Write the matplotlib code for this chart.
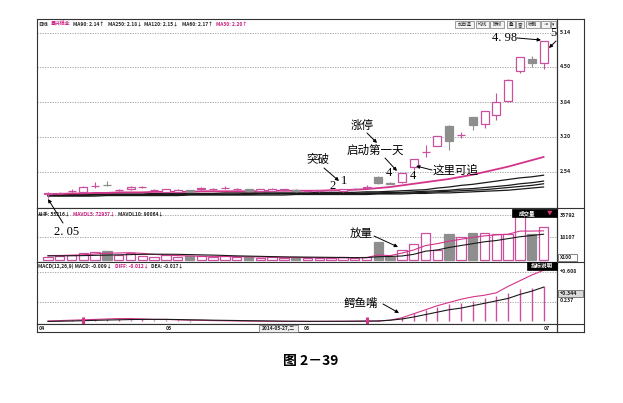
import numpy as np
import matplotlib
matplotlib.use('Agg')
import matplotlib.pyplot as plt
from matplotlib.patches import Rectangle
from matplotlib.transforms import blended_transform_factory

plt.rcParams['font.family'] = ['Noto Sans CJK SC', 'DejaVu Sans']

# daily candles (43 sessions, Apr -> early Jul)
opens = [2.13, 2.15, 2.18, 2.17, 2.27, 2.30, 2.20, 2.22, 2.26, 2.20, 2.17, 2.17, 2.20, 2.23, 2.22,
         2.24, 2.22, 2.22, 2.18, 2.19, 2.21, 2.21, 2.19, 2.18, 2.20, 2.18, 2.22, 2.25, 2.45, 2.33,
         2.35, 2.63, 2.91, 3.03, 3.40, 3.23, 3.56, 3.44, 3.60, 3.87, 4.43, 4.64, 4.57]
highs = [2.16, 2.17, 2.22, 2.27, 2.36, 2.37, 2.23, 2.28, 2.28, 2.22, 2.23, 2.22, 2.21, 2.26, 2.24,
         2.27, 2.25, 2.23, 2.23, 2.24, 2.23, 2.22, 2.21, 2.21, 2.22, 2.23, 2.24, 2.29, 2.46, 2.35,
         2.53, 2.78, 3.04, 3.22, 3.41, 3.29, 3.57, 3.68, 4.02, 4.27, 4.69, 4.70, 4.98]
lows = [2.05, 2.12, 2.16, 2.16, 2.25, 2.27, 2.18, 2.21, 2.24, 2.19, 2.16, 2.16, 2.16, 2.21, 2.20,
        2.22, 2.20, 2.17, 2.17, 2.18, 2.19, 2.17, 2.18, 2.17, 2.19, 2.17, 2.21, 2.24, 2.32, 2.31,
        2.34, 2.58, 2.82, 3.02, 2.95, 3.17, 3.32, 3.36, 3.51, 3.84, 4.39, 4.49, 4.46]
closes = [2.14, 2.15, 2.19, 2.26, 2.28, 2.29, 2.20, 2.26, 2.26, 2.21, 2.22, 2.21, 2.17, 2.24, 2.22,
          2.25, 2.23, 2.18, 2.22, 2.22, 2.21, 2.18, 2.19, 2.20, 2.20, 2.22, 2.22, 2.26, 2.33, 2.32,
          2.52, 2.78, 2.92, 3.21, 3.11, 3.23, 3.42, 3.67, 3.85, 4.26, 4.68, 4.58, 4.98]

ma30 = [2.13, 2.13, 2.14, 2.14, 2.15, 2.15, 2.16, 2.16, 2.16, 2.17, 2.17, 2.17, 2.17, 2.18, 2.18,
        2.18, 2.18, 2.18, 2.18, 2.19, 2.19, 2.19, 2.19, 2.19, 2.20, 2.20, 2.21, 2.22, 2.24, 2.26,
        2.29, 2.32, 2.35, 2.38, 2.41, 2.45, 2.49, 2.54, 2.59, 2.64, 2.70, 2.76, 2.82]
ma60 = [2.12, 2.12, 2.12, 2.12, 2.13, 2.13, 2.13, 2.13, 2.13, 2.14, 2.14, 2.14, 2.14, 2.14, 2.14,
        2.15, 2.15, 2.15, 2.15, 2.15, 2.15, 2.15, 2.15, 2.16, 2.16, 2.16, 2.16, 2.17, 2.17, 2.18,
        2.19, 2.20, 2.21, 2.24, 2.26, 2.29, 2.31, 2.34, 2.37, 2.40, 2.43, 2.45, 2.48]
ma90 = [2.11, 2.11, 2.11, 2.11, 2.12, 2.12, 2.12, 2.12, 2.12, 2.12, 2.13, 2.13, 2.13, 2.13, 2.13,
        2.13, 2.13, 2.14, 2.14, 2.14, 2.14, 2.14, 2.14, 2.14, 2.14, 2.14, 2.14, 2.15, 2.15, 2.16,
        2.16, 2.17, 2.18, 2.19, 2.20, 2.22, 2.23, 2.25, 2.27, 2.29, 2.32, 2.34, 2.37]
ma120 = [2.10, 2.10, 2.10, 2.10, 2.11, 2.11, 2.11, 2.11, 2.11, 2.11, 2.12, 2.12, 2.12, 2.12, 2.12,
         2.12, 2.12, 2.12, 2.13, 2.13, 2.13, 2.13, 2.13, 2.13, 2.13, 2.13, 2.13, 2.14, 2.14, 2.14,
         2.15, 2.15, 2.16, 2.17, 2.18, 2.19, 2.20, 2.21, 2.23, 2.25, 2.27, 2.29, 2.32]
ma250 = [2.09, 2.09, 2.09, 2.09, 2.09, 2.10, 2.10, 2.10, 2.10, 2.10, 2.10, 2.10, 2.11, 2.11, 2.11,
         2.11, 2.11, 2.11, 2.11, 2.11, 2.11, 2.12, 2.12, 2.12, 2.12, 2.12, 2.12, 2.12, 2.13, 2.13,
         2.13, 2.14, 2.14, 2.15, 2.15, 2.16, 2.17, 2.18, 2.19, 2.20, 2.22, 2.24, 2.26]

volume = [2400, 3200, 4000, 5600, 6400, 7200, 4000, 5600, 3200, 2400, 4000, 2400, 3200, 2800, 2400,
          3000, 2000, 2400, 1800, 2200, 1600, 2000, 1500, 1800, 1400, 2600, 1600, 2200, 14000, 2600,
          8200, 12800, 21700, 7700, 20500, 17900, 21700, 21700, 20500, 20500, 35792, 20500, 26100]
mavol5 = [3500, 3600, 3800, 4200, 4800, 5400, 5600, 5800, 5300, 4500, 3900, 3500, 3200, 3000, 2900,
          2800, 2700, 2500, 2400, 2300, 2100, 2000, 1900, 1800, 1700, 1800, 1800, 1900, 4000, 3500,
          5500, 8000, 11500, 13000, 15000, 16500, 18000, 19200, 20000, 20500, 23000, 23000, 23200]
mavol10 = [3300, 3300, 3400, 3500, 3700, 3900, 4100, 4300, 4500, 4600, 4600, 4500, 4300, 4100, 3900,
           3600, 3300, 3100, 2900, 2700, 2500, 2400, 2300, 2200, 2100, 2000, 1900, 1900, 2600, 2800,
           3200, 4500, 7000, 8000, 10000, 11500, 13000, 14500, 15500, 17000, 18500, 19500, 20500]

diff = [0.000, 0.005, 0.010, 0.015, 0.020, 0.025, 0.030, 0.030, 0.025, 0.020, 0.020, 0.015, 0.010,
        0.008, 0.005, 0.003, 0.000, -0.002, -0.003, -0.004, -0.005, -0.005, -0.006, -0.005, -0.004,
        -0.003, -0.002, 0.000, 0.000, 0.010, 0.040, 0.090, 0.140, 0.190, 0.230, 0.270, 0.300, 0.320,
        0.350, 0.430, 0.500, 0.570, 0.630]
dea = [-0.005, -0.003, 0.000, 0.004, 0.008, 0.012, 0.015, 0.018, 0.020, 0.020, 0.020, 0.018, 0.015,
       0.013, 0.010, 0.008, 0.006, 0.004, 0.002, 0.000, -0.002, -0.003, -0.004, -0.004, -0.004,
       -0.004, -0.003, -0.002, 0.000, 0.010, 0.025, 0.050, 0.080, 0.110, 0.140, 0.160, 0.190, 0.220,
       0.250, 0.280, 0.330, 0.370, 0.420]
macd = [-0.005, 0.002, 0.008, 0.030, 0.020, 0.025, 0.020, 0.018, 0.020, 0.015, 0.012, 0.010, -0.008,
        -0.006, -0.005, -0.004, -0.006, -0.005, -0.004, -0.003, -0.004, -0.005, -0.006, -0.005,
        -0.004, -0.003, -0.002, 0.030, 0.010, 0.006, 0.050, 0.099, 0.136, 0.174, 0.211, 0.223, 0.248,
        0.285, 0.310, 0.347, 0.397, 0.409, 0.434]
cross_idx = [3, 27]

price_ticks = [5.14, 4.50, 3.84, 3.20, 2.54]
vol_ticks = [35792, 18107]
macd_ticks = [0.608, 0.237]

PINK = '#c8509e'
MA_PINK = '#d4348a'
TXT_PINK = '#c8187e'
GRAY = '#8e8e8e'
DARK = '#1a1a1a'

W, H = 623, 403
fig = plt.figure(figsize=(W / 100, H / 100), dpi=100)


def box(x0, y0, x1, y1):
    return [x0 / W, 1 - y1 / H, (x1 - x0) / W, (y1 - y0) / H]


X0, X1 = 37, 557
ax_p = fig.add_axes(box(X0, 19, X1, 208))
ax_v = fig.add_axes(box(X0, 208, X1, 262))
ax_m = fig.add_axes(box(X0, 262, X1, 324))
ax_d = fig.add_axes(box(X0, 324, X1, 332))
ax_r = fig.add_axes(box(X1, 19, 584, 332))
ax_r.set_facecolor('none')

for a in (ax_p, ax_v, ax_m, ax_d, ax_r):
    a.set_xticks([])
    a.set_yticks([])
    for s in a.spines.values():
        s.set_linewidth(0.8)
        s.set_color('#333333')

o = np.array(opens)
c = np.array(closes)
n = len(c)
x = np.arange(n)
up = c >= o
cols = np.where(up, PINK, GRAY)
faces = np.where(up, 'white', GRAY)

for a in (ax_p, ax_v, ax_m, ax_d):
    a.set_xlim(-0.93, 43.14)

# ---- price panel ----
ax_p.set_ylim(1.868, 5.395)
for t in price_ticks:
    ax_p.axhline(t, color='#9a9a9a', lw=0.6, ls=(0, (1.5, 1.5)), zorder=0)
for ma in (ma250, ma120, ma90, ma60):
    ax_p.plot(x, ma, color=DARK, lw=0.9, zorder=1)
ax_p.plot(x, ma30, color=MA_PINK, lw=1.3, zorder=1.5)
ax_p.vlines(x, lows, highs, colors=cols, lw=0.8, zorder=2)
ax_p.bar(x, np.maximum(np.abs(c - o), 0.004), bottom=np.minimum(o, c), width=0.68,
         color=faces, edgecolor=cols, lw=0.9, zorder=3)

# ---- volume panel ----
ax_v.set_ylim(-1591, 41360)
for t in vol_ticks:
    ax_v.axhline(t, color='#9a9a9a', lw=0.6, ls=(0, (1.5, 1.5)), zorder=0)
ax_v.bar(x, volume, width=0.8, color=faces, edgecolor=cols, lw=0.9, zorder=2)
ax_v.plot(x, mavol5, color=MA_PINK, lw=0.8, zorder=3)
ax_v.plot(x, mavol10, color=DARK, lw=0.8, zorder=3)

# ---- MACD panel ----
ax_m.set_ylim(-0.0372, 0.732)
for t in macd_ticks:
    ax_m.axhline(t, color='#9a9a9a', lw=0.6, ls=(0, (1.5, 1.5)), zorder=0)
mc = np.array(macd)
ax_m.vlines(x, 0, mc, colors=np.where(mc >= 0, PINK, GRAY), lw=1.0, zorder=2)
ax_m.plot(x, diff, color=MA_PINK, lw=0.8, zorder=3)
ax_m.plot(x, dea, color=DARK, lw=0.8, zorder=3)
ax_m.plot(cross_idx, np.zeros(len(cross_idx)), ls='none', marker='|', ms=6, mew=2.2,
          color=MA_PINK, zorder=4)

# ---- right-hand scale labels ----
small = dict(fontsize=3.8, fontweight='bold', va='center', ha='left', color='#222222')
tp = blended_transform_factory(ax_p.transAxes, ax_p.transData)
for t in price_ticks:
    ax_p.text(1.005, t, f'{t:.2f}', transform=tp, clip_on=False, **small)
tv = blended_transform_factory(ax_v.transAxes, ax_v.transData)
for t in vol_ticks:
    ax_v.text(1.005, t, f'{t}', transform=tv, clip_on=False, **small)
tm = blended_transform_factory(ax_m.transAxes, ax_m.transData)
ax_m.text(1.005, macd_ticks[0], f'+{macd_ticks[0]:.3f}', transform=tm, clip_on=False, **small)
ax_m.text(1.005, macd_ticks[1] + 0.02, f'{macd_ticks[1]:.3f}', transform=tm, clip_on=False, **small)

# ---- overlay for headers, buttons and notes (pixel coordinates) ----
ov = fig.add_axes([0, 0, 1, 1])
ov.set_xlim(0, W)
ov.set_ylim(H, 0)
ov.axis('off')
renderer = fig.canvas.get_renderer()

# separators through the scale column
for yy in (208, 262, 324):
    ov.plot([X1, 584], [yy, yy], color='#333333', lw=0.8)


def run_text(x0, y, pieces, gap=3.0, size=3.5):
    # lay header pieces one after another so they never overlap
    xx = x0
    for s, col in pieces:
        t = ov.text(xx, y, s, color=col, fontsize=size, fontweight='bold', va='center', ha='left')
        xx += t.get_window_extent(renderer).width + gap


run_text(38, 24, [('日线', '#222222'), ('景兴纸业', TXT_PINK), ('MA90: 2.14↑', '#222222'),
                  ('MA250: 2.18↓', '#222222'), ('MA120: 2.15↓', '#222222'),
                  ('MA60: 2.17↑', '#222222'), ('MA30: 2.20↑', TXT_PINK)])
run_text(38, 214, [('总手: 55216↓', '#222222'), ('MAVOL5: 72937↓', TXT_PINK),
                   ('MAVOL10: 90064↓', '#222222')])
run_text(38, 266, [('MACD(12,26,9) MACD: -0.009↓', '#222222'), ('DIFF: -0.012↓', TXT_PINK),
                   ('DEA: -0.017↓', '#222222')])

# toolbar buttons
for s, x0, x1 in [('加自选', 455, 474), ('均线', 476, 489), ('除权', 490, 504), ('叠', 507, 515),
                  ('窗', 516, 524), ('标删', 526, 540), ('⇥', 541, 550), ('▾', 551, 556)]:
    ov.add_patch(Rectangle((x0, 21), x1 - x0, 7, facecolor='#f4f4f4', edgecolor='#777777', lw=0.5))
    ov.text((x0 + x1) / 2, 24.5, s, fontsize=3.3, ha='center', va='center', color='#222222',
            family=['Noto Sans CJK SC', 'DejaVu Sans'])

# black tags
ov.add_patch(Rectangle((512, 209), 45, 8, facecolor='black', edgecolor='black', lw=0.5))
ov.text(527, 213, '成交量', fontsize=4, color='white', ha='center', va='center', fontweight='bold')
ov.text(550, 213, '▼', fontsize=4, color='#e0307a', ha='center', va='center')
ov.add_patch(Rectangle((527, 262), 30, 8, facecolor='black', edgecolor='black', lw=0.5))
ov.text(542, 266, '指标说明', fontsize=4, color='white', ha='center', va='center', fontweight='bold')

# scale column boxes
ov.add_patch(Rectangle((558, 254), 19, 7, facecolor='white', edgecolor='#555555', lw=0.5))
ov.text(559.5, 257.5, 'X100', **{**small, 'fontsize': 3.6})
y344 = 321 - 0.344 / 0.012408
ov.add_patch(Rectangle((558, y344 - 3.5), 25, 7, facecolor='#d9d9d9', edgecolor='#555555', lw=0.5))
ov.text(559.5, y344, '+0.344', **small)

# date strip
date_labels = [('04', 39), ('05', 166), ('06', 304), ('07', 544)]
for s, xx in date_labels:
    ov.text(xx, 328.3, s, fontsize=3.8, fontweight='bold', ha='left', va='center', color='#222222')
ov.add_patch(Rectangle((259, 324.5), 39, 7, facecolor='#eeeeee', edgecolor='#666666', lw=0.5))
ov.text(278.5, 328.3, '2014-05-27,二', fontsize=3.5, fontweight='bold', ha='center', va='center',
        color='#222222')


def arrow(x1, y1, x2, y2):
    ov.annotate('', xy=(x2, y2), xytext=(x1, y1),
                arrowprops=dict(arrowstyle='-|>', color='black', lw=0.7, mutation_scale=5,
                                shrinkA=0, shrinkB=0))


note = dict(fontsize=8.3, ha='center', va='center', color='black')
num = dict(fontsize=9, ha='center', va='center', color='black', family='Liberation Serif')

ov.text(505, 38, '4. 98', **num)
arrow(517, 38, 541, 40)
ov.text(553, 33, '5', **num)
arrow(556, 41, 549, 48)

ov.text(67, 232, '2. 05', **num)
arrow(63, 223, 48, 199)

ov.text(318, 160, '突破', **note)
arrow(324, 168, 339, 181)
ov.text(333, 186, '2', **num)
ov.text(344, 181, '1', **num)

ov.text(362, 125, '涨停', **note)
arrow(367, 133, 377, 143)
ov.text(375, 150, '启动第一天', **note)
arrow(385, 158, 397, 171)
ov.text(389, 173, '4', **num)
ov.text(413, 176, '4', **num)
ov.text(456, 170, '这里可追', **note)
arrow(432, 170, 416, 166)

ov.text(361, 233, '放量', **note)
arrow(374, 236, 398, 247)

ov.text(361, 303, '鳄鱼嘴', **note)
arrow(383, 304, 399, 313)

ov.text(311, 361, '图 2－39', fontsize=10, fontweight='bold', ha='center', va='center', color='black')

fig.savefig('out.png', dpi=100)
